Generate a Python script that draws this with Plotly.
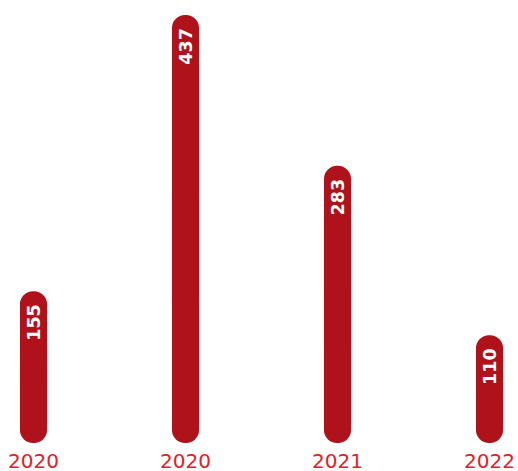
import plotly.graph_objects as go

years = ["2020", "2020", "2021", "2022"]
counts = [155, 437, 283, 110]

BAR_COLOR = "#b0121b"
LABEL_COLOR = "#e3202a"

pos = list(range(len(years)))
upper_base = [c * 0.3 for c in counts]
lower_top = [c * 0.6 for c in counts]

fig = go.Figure()
# lower piece: drawn downward so the bottom end is rounded as well
fig.add_bar(x=pos, y=[-t for t in lower_top], base=lower_top, width=0.178,
            marker={"color": BAR_COLOR, "cornerradius": 14, "line": {"width": 0}},
            hoverinfo="skip")
# upper piece: rounded top, carries the value label (drawn last so text stays on top)
fig.add_bar(x=pos, y=[c - b for c, b in zip(counts, upper_base)], base=upper_base, width=0.178,
            marker={"color": BAR_COLOR, "cornerradius": 14, "line": {"width": 0}},
            text=[str(c) for c in counts], textposition="inside", insidetextanchor="end",
            textangle=-90, constraintext="none",
            insidetextfont={"color": "white", "size": 20, "family": "DejaVu Sans", "weight": "bold"},
            hoverinfo="skip")

# year labels as annotations so the edge ones are not dropped
for p, year in zip(pos, years):
    fig.add_annotation(x=p, xref="x", y=0, yref="paper", yshift=-18, text=year,
                       showarrow=False, yanchor="middle",
                       font={"color": LABEL_COLOR, "size": 20, "family": "DejaVu Sans"})

fig.update_layout(
    width=518, height=471, barmode="overlay", showlegend=False,
    paper_bgcolor="white", plot_bgcolor="white",
    margin={"l": 0, "r": 0, "t": 15, "b": 28},
)
fig.update_xaxes(range=[-0.2204, 3.1875], showticklabels=False, showgrid=False,
                 zeroline=False, showline=False, ticks="")
fig.update_yaxes(range=[0, 437], visible=False)
# drop the browser's default body margin so the figure fills the window exactly
fig.write_html("out.html", config={"displayModeBar": False},
               post_script="document.body.style.margin='0';")
